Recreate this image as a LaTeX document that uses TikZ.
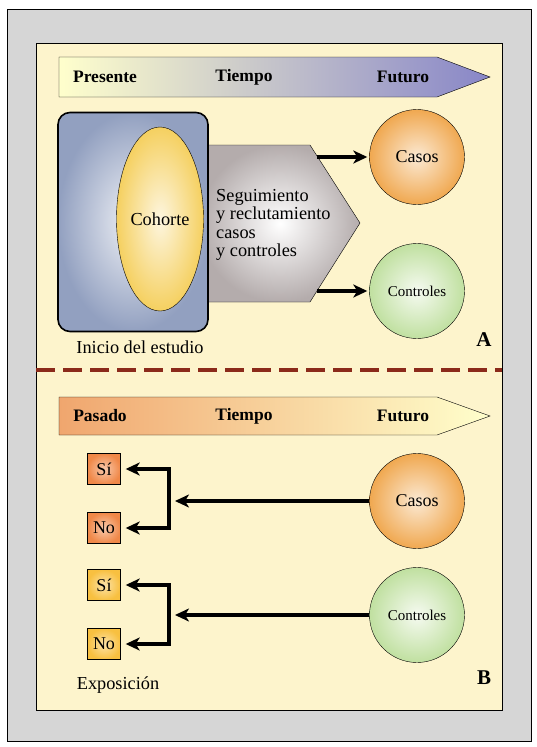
\documentclass[tikz,border=0pt]{standalone}
\usepackage{fontspec}
\setmainfont{Liberation Serif}
\usetikzlibrary{positioning, arrows.meta, shapes.geometric}

\definecolor{marcoGris}{RGB}{214,214,214}
\definecolor{crema}{RGB}{253,244,204}
\definecolor{granate}{RGB}{139,42,26}
\definecolor{amarilloPalido}{RGB}{255,255,204}
\definecolor{grisMedio}{RGB}{214,210,208}
\definecolor{lila}{RGB}{136,134,200}
\definecolor{naranjaSuave}{RGB}{240,166,110}
\definecolor{durazno}{RGB}{250,216,160}
\definecolor{azulGris}{RGB}{146,160,192}
\definecolor{amarilloCohorte}{RGB}{245,208,96}
\definecolor{grisRosa}{RGB}{180,172,172}
\definecolor{naranjaCasos}{RGB}{240,168,80}
\definecolor{verdeControles}{RGB}{192,224,160}
\definecolor{naranjaCaja}{RGB}{240,136,72}
\definecolor{amarilloCaja}{RGB}{248,192,64}

\begin{document}
\begin{tikzpicture}[x=1pt, y=-1pt,
        % --- ESTILOS ---
        % 1. Textos normales y de la linea de tiempo
        texto/.style={font=\fontsize{18.3}{18.3}\selectfont},
        tiempo/.style={font=\fontsize{17.5}{18}\selectfont\bfseries},
        letra/.style={font=\fontsize{21}{21}\selectfont\bfseries},
        % 2. Grupos (casos / controles)
        grupo/.style={
                circle,
                draw=black,
                thin,
                minimum size=95pt,
                inner sep=0pt,
                font=\fontsize{18}{18}\selectfont
            },
        casos/.style={grupo, inner color=white!75!naranjaCasos, outer color=naranjaCasos},
        controles/.style={grupo, inner color=white!85!verdeControles, outer color=verdeControles,
                font=\fontsize{15}{15}\selectfont},
        % 3. Cajas de exposicion
        caja/.style={
                draw=black,
                thin,
                minimum width=33pt,
                minimum height=31pt,
                inner sep=0pt,
                font=\fontsize{18}{18}\selectfont
            },
        cajaCasos/.style={caja, inner color=white!55!naranjaCaja, outer color=naranjaCaja},
        cajaControles/.style={caja, inner color=white!55!amarilloCaja, outer color=amarilloCaja},
        % 4. Flechas
        flecha/.style={-{Stealth[length=14pt, width=13pt, inset=4pt]}, line width=3.3pt}
    ]
    \useasboundingbox (0,0) rectangle (537,747);

    % Marcos
    \draw[thin, fill=marcoGris] (7,9) rectangle (531,741);
    \draw[thin, fill=crema] (36,43) rectangle (502,710);

    % ===== A =====
    % 1. Linea de tiempo
    \draw[thin, left color=amarilloPalido, middle color=grisMedio, right color=lila]
    (59,57) -- (437,57) -- (490,77) -- (437,97) -- (59,97) -- cycle;
    \node[tiempo] (presente) at (105,77) {Presente};
    \node[tiempo] (tiempoA) at (244,77) {Tiempo};
    \node[tiempo] (futuroA) at (403,77) {Futuro};

    % 2. Seguimiento
    \draw[thin, inner color=white, outer color=grisRosa]
    (200,145) -- (310,145) -- (360,223) -- (310,302) -- (200,302) -- cycle;
    \node[texto, align=left, anchor=west, inner sep=0pt] (seguimiento) at (216,225)
    {Seguimiento\\y reclutamiento\\casos\\y controles};

    % 3. Cohorte
    \node[draw=black, line width=1.6pt, rounded corners=12pt, minimum width=150pt,
        minimum height=219pt, inner color=white!85!azulGris, outer color=azulGris]
    (marco) at (133,222) {};
    \node[ellipse, draw=black, thin, minimum width=87pt, minimum height=184pt, inner sep=0pt,
        inner color=white!80!amarilloCohorte, outer color=amarilloCohorte, texto]
    (cohorte) at (160,219) {Cohorte};
    \node[texto] (inicio) at (140,347) {Inicio del estudio};

    % 4. Casos y controles
    \node[casos] (casosA) at (417,157) {Casos};
    \node[controles] (controlesA) at (417,291) {Controles};
    \coordinate (salidaCasos) at (317,157);
    \coordinate (salidaControles) at (317,291);
    \draw[flecha, shorten >=2pt] (salidaCasos) -- (casosA);
    \draw[flecha, shorten >=2pt] (salidaControles) -- (controlesA);

    \node[letra] (letraA) at (484,340) {A};

    % Separacion
    \draw[granate, line width=4pt, dash pattern=on 19pt off 8pt] (36,370) -- (502,370);

    % ===== B =====
    % 1. Linea de tiempo
    \draw[thin, left color=naranjaSuave, middle color=durazno, right color=amarilloPalido]
    (59,397) -- (437,397) -- (490,416) -- (437,435) -- (59,435) -- cycle;
    \node[tiempo] (pasado) at (100,416) {Pasado};
    \node[tiempo] (tiempoB) at (244,416) {Tiempo};
    \node[tiempo] (futuroB) at (403,416) {Futuro};

    % 2. Grupos
    \node[casos] (casosB) at (417,501) {Casos};
    \node[controles] (controlesB) at (417,615) {Controles};

    % 3. Exposicion
    \node[cajaCasos] (siA) at (104,469) {Sí};
    \node[cajaCasos] (noA) at (104,528) {No};
    \node[cajaControles] (siB) at (104,585) {Sí};
    \node[cajaControles] (noB) at (104,644) {No};
    \node[texto] (exposicion) at (118,685) {Exposición};

    % 4. Flechas hacia atras
    \coordinate (ramaA) at (169,501);
    \coordinate (ramaB) at (169,615);
    \draw[flecha, shorten >=6pt] (casosB) -- (ramaA);
    \draw[flecha, shorten >=6pt] (controlesB) -- (ramaB);
    \draw[flecha, shorten >=5pt] (ramaA) |- (siA);
    \draw[flecha, shorten >=5pt] (ramaA) |- (noA);
    \draw[flecha, shorten >=5pt] (ramaB) |- (siB);
    \draw[flecha, shorten >=5pt] (ramaB) |- (noB);

    \node[letra] (letraB) at (484,678) {B};

\end{tikzpicture}
\end{document}
